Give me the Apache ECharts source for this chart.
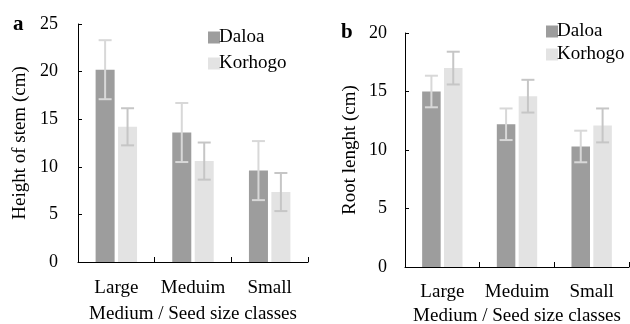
<!DOCTYPE html>
<html><head><meta charset="utf-8">
<script src="https://cdn.jsdelivr.net/npm/echarts@6/dist/echarts.min.js"></script>
<style>html,body{margin:0;padding:0;background:#fff}#c{width:630px;height:324px}</style>
</head><body><div id="c"></div>
<script>
var categories = ['Large', 'Meduim', 'Small'];
var seriesNames = ['Daloa', 'Korhogo'];
var daloaStem = [20.2, 13.6, 9.6];
var daloaStemErr = [3.1, 3.1, 3.1];
var korhogoStem = [14.2, 10.6, 7.35];
var korhogoStemErr = [1.95, 1.95, 2.0];
var daloaRoot = [15.0, 12.2, 10.3];
var daloaRootErr = [1.35, 1.35, 1.35];
var korhogoRoot = [17.0, 14.6, 12.1];
var korhogoRootErr = [1.4, 1.4, 1.45];
var stemTicks = [0, 5, 10, 15, 20, 25];
var rootTicks = [0, 5, 10, 15, 20];

var FONT = 'Liberation Serif';
var C_D = '#9d9d9d', C_K = '#e3e3e3';
var E_D = '#d8d8d8', E_K = '#c6c6c6';
var BAR_W = 0.248, GAP = 0.18;

function errSeries(name, vals, errs, side, color, xi, yi) {
  return {
    type: 'custom', name: name + ' err', xAxisIndex: xi, yAxisIndex: yi, z: 5, silent: true,
    data: vals.map(function (v, i) { return [i, v - errs[i], v + errs[i]]; }),
    renderItem: function (params, api) {
      var band = api.size([1, 0])[0];
      var off = side * band * BAR_W * (1 + GAP) / 2;
      var lo = api.coord([api.value(0), api.value(1)]);
      var hi = api.coord([api.value(0), api.value(2)]);
      var x = lo[0] + off, cap = 6.5;
      var st = { stroke: color, lineWidth: 2 };
      return { type: 'group', children: [
        { type: 'line', shape: { x1: x, y1: lo[1], x2: x, y2: hi[1] }, style: st },
        { type: 'line', shape: { x1: x - cap, y1: hi[1], x2: x + cap, y2: hi[1] }, style: st },
        { type: 'line', shape: { x1: x - cap, y1: lo[1], x2: x + cap, y2: lo[1] }, style: st }
      ]};
    }
  };
}

function xAx(gi, nameGap, margin) {
  return {
    type: 'category', gridIndex: gi, data: categories,
    name: 'Medium / Seed size classes', nameLocation: 'middle', nameGap: nameGap,
    nameTextStyle: { fontFamily: FONT, fontSize: 19, color: '#000' },
    axisLine: { lineStyle: { color: '#000', width: 1 } },
    axisTick: { show: true, inside: true, length: 5, lineStyle: { color: '#000' } },
    axisLabel: { fontFamily: FONT, fontSize: 19, color: '#000', margin: margin, interval: 0 }
  };
}
function yAx(gi, max, ticks, name, gap, margin) {
  return {
    type: 'value', gridIndex: gi, min: 0, max: max, interval: 5,
    name: name, nameLocation: 'middle', nameGap: gap,
    nameTextStyle: { fontFamily: FONT, fontSize: 19, color: '#000' },
    axisLine: { show: true, lineStyle: { color: '#000', width: 1 } },
    axisTick: { show: true, inside: true, length: 4, lineStyle: { color: '#000' } },
    splitLine: { show: false },
    axisLabel: { fontFamily: FONT, fontSize: 18, color: '#000', margin: margin,
      formatter: function (v) { return ticks.indexOf(v) >= 0 ? String(v) : ''; } }
  };
}
function bar(name, vals, color, xi, yi) {
  return { type: 'bar', name: name, data: vals, xAxisIndex: xi, yAxisIndex: yi,
    barWidth: (BAR_W * 100) + '%', barGap: (GAP * 100) + '%',
    itemStyle: { color: color }, z: 2 };
}

var chart = echarts.init(document.getElementById('c'), null, { renderer: 'canvas' });
chart.setOption({
  animation: false,
  backgroundColor: '#fff',
  title: [
    { text: 'a', left: 8, top: 9, textStyle: { fontFamily: FONT, fontSize: 21, fontWeight: 'bold', color: '#000' } },
    { text: 'b', left: 336, top: 17, textStyle: { fontFamily: FONT, fontSize: 21, fontWeight: 'bold', color: '#000' } }
  ],
  legend: [
    { data: seriesNames, orient: 'vertical', left: 203, top: 23, icon: 'rect', itemWidth: 12, itemHeight: 12, itemGap: 7,
      textStyle: { fontFamily: FONT, fontSize: 19, color: '#000', padding: [0, 0, 0, -6] } },
    { data: seriesNames, orient: 'vertical', left: 541, top: 17, icon: 'rect', itemWidth: 12, itemHeight: 12, itemGap: 4,
      textStyle: { fontFamily: FONT, fontSize: 19, color: '#000', padding: [0, 0, 0, -6] } }
  ],
  grid: [
    { left: 78, top: 24, width: 230, height: 238, outerBoundsMode: 'none', containLabel: false },
    { left: 405, top: 33, width: 224, height: 234, outerBoundsMode: 'none', containLabel: false }
  ],
  xAxis: [xAx(0, 43, 17), xAx(1, 36, 16)],
  yAxis: [yAx(0, 25, stemTicks, 'Height of stem (cm)', 48, 20), yAx(1, 20, rootTicks, 'Root lenght (cm)', 45, 18)],
  series: [
    bar('Daloa', daloaStem, C_D, 0, 0),
    bar('Korhogo', korhogoStem, C_K, 0, 0),
    bar('Daloa', daloaRoot, C_D, 1, 1),
    bar('Korhogo', korhogoRoot, C_K, 1, 1),
    errSeries('Daloa', daloaStem, daloaStemErr, -1, E_D, 0, 0),
    errSeries('Korhogo', korhogoStem, korhogoStemErr, 1, E_K, 0, 0),
    errSeries('Daloa', daloaRoot, daloaRootErr, -1, E_D, 1, 1),
    errSeries('Korhogo', korhogoRoot, korhogoRootErr, 1, E_K, 1, 1)
  ]
});
</script></body></html>
